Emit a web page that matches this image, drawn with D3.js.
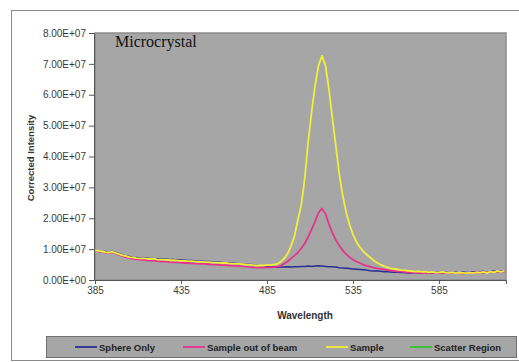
<!DOCTYPE html>
<html><head><meta charset="utf-8">
<script src="https://cdn.jsdelivr.net/npm/d3@7/dist/d3.min.js"></script>
<style>body{margin:0;background:#fff}svg{display:block}</style>
</head><body><svg id="c" width="519" height="362"></svg>
<script>
// wavelength (nm)
const wavelength = [
385,387,389,391,393,395,397,399,401,403,
405,407,409,411,413,415,417,419,421,423,
425,427,429,431,433,435,437,439,441,443,
445,447,449,451,453,455,457,459,461,463,
465,467,469,471,473,475,477,479,481,483,
485,487,489,491,493,495,497,499,501,503,
505,507,509,511,513,515,517,519,521,523,
525,527,529,531,533,535,537,539,541,543,
545,547,549,551,553,555,557,559,561,563,
565,567,569,571,573,575,577,579,581,583,
585,587,589,591,593,595,597,599,601,603,
605,607,609,611,613,615,617,619,621,623];
// corrected intensity, in millions
const sphereOnly = [
9.5,9.3,9.1,9.2,8.9,9.3,8.9,8.5,8.1,7.8,
7.6,7.4,7.3,7.2,7.1,7.1,7.0,7.0,6.9,6.8,
6.8,6.7,6.6,6.6,6.5,6.5,6.4,6.3,6.3,6.2,
6.1,6.1,6.0,6.0,5.9,5.8,5.8,5.7,5.6,5.6,
5.5,5.4,5.3,5.2,5.1,5.0,4.9,4.8,4.6,4.5,
4.4,4.3,4.2,4.1,4.2,4.2,4.3,4.2,4.3,4.3,
4.4,4.4,4.5,4.4,4.5,4.6,4.5,4.4,4.3,4.3,
4.2,4.0,3.9,3.8,3.7,3.6,3.5,3.4,3.3,3.2,
3.0,2.9,2.9,2.8,2.7,2.7,2.6,2.5,2.5,2.4,
2.4,2.3,2.3,2.4,2.2,2.3,2.5,2.2,2.3,2.4,
2.6,2.3,2.5,2.2,2.4,2.5,2.3,2.6,2.4,2.5,
2.7,2.4,2.6,2.8,2.5,2.7,2.9,2.6,2.8,2.7];
const sampleOutOfBeam = [
9.5,9.3,9.0,8.9,8.7,9.0,8.6,8.1,7.7,7.4,
7.1,6.9,6.7,6.6,6.5,6.4,6.3,6.3,6.1,6.0,
6.0,5.9,5.8,5.7,5.7,5.6,5.5,5.5,5.4,5.3,
5.3,5.2,5.2,5.1,5.0,5.0,4.9,4.8,4.8,4.7,
4.6,4.6,4.5,4.4,4.3,4.2,4.1,4.0,4.1,4.0,
4.1,4.1,4.2,4.3,4.6,5.3,6.0,7.0,7.9,8.9,
10.3,11.9,14.0,16.5,19.0,21.8,23.2,21.5,18.2,15.3,
13.0,11.2,9.6,8.4,7.4,6.6,6.0,5.5,5.0,4.6,
4.3,4.0,3.8,3.6,3.4,3.2,3.0,2.9,2.8,2.7,
2.6,2.5,2.4,2.5,2.3,2.4,2.2,2.3,2.4,2.2,
2.3,2.4,2.2,2.3,2.4,2.2,2.3,2.1,2.3,2.2,
2.4,2.3,2.5,2.4,2.6,2.5,2.7,2.6,2.8,2.7];
const sample = [
9.6,9.4,9.2,9.0,8.9,9.2,8.8,8.4,8.0,7.7,
7.4,7.3,7.1,7.0,7.0,6.9,6.8,6.9,6.7,6.6,
6.6,6.5,6.4,6.4,6.3,6.2,6.2,6.1,6.1,6.0,
5.9,5.9,5.8,5.8,5.7,5.6,5.6,5.5,5.5,5.4,
5.3,5.3,5.2,5.1,5.0,4.9,4.8,4.7,4.7,4.7,
4.8,4.8,5.0,5.2,5.9,7.0,8.5,11.0,14.2,19.5,
24.5,33.0,45.0,54.5,63.0,69.5,72.6,69.5,62.0,52.5,
43.5,34.5,27.5,22.0,18.0,14.8,12.4,10.6,9.3,8.2,
7.3,6.4,5.6,5.0,4.5,4.1,3.8,3.6,3.4,3.2,
3.1,3.0,2.9,2.7,2.8,2.6,2.7,2.5,2.6,2.4,
2.5,2.6,2.4,2.3,2.5,2.2,2.4,2.3,2.2,2.4,
2.3,2.5,2.4,2.6,2.3,2.7,2.5,2.9,2.6,2.9];
const scatterRegion = [];
const seriesNames = ["Sphere Only","Sample out of beam","Sample","Scatter Region"];
const seriesColors = ["#2c2c94","#e6348c","#f2ef3c","#2fc42f"];
const yTicks = [0,10,20,30,40,50,60,70,80];
const xTicks = [385,435,485,535,585];

const svg = d3.select("#c");
const L=95, T=33, R=506, B=280;
const x = d3.scaleLinear().domain([385,624]).range([L,R]);
const y = d3.scaleLinear().domain([0,80]).range([B,T]);

// outer frame
svg.append("rect").attr("x",11.5).attr("y",10.5).attr("width",530).attr("height",350)
  .attr("fill","#fff").attr("stroke","#8a8a8a");

// plot area
svg.append("rect").attr("x",L).attr("y",T).attr("width",R-L).attr("height",B-T)
  .attr("fill","#a6a6a6").attr("stroke","#8c8c8c").attr("stroke-width",1.5);

const fmt = v => {
  if (v===0) return "0.00E+00";
  const e = Math.floor(Math.log10(v*1e6));
  const m = v*1e6/Math.pow(10,e);
  return m.toFixed(2)+"E+"+String(e).padStart(2,"0");
};

const yAxis = d3.axisLeft(y).tickValues(yTicks).tickFormat(fmt).tickSize(5).tickPadding(3);
const gy = svg.append("g").attr("transform",`translate(${L-1},0)`).call(yAxis);
gy.selectAll("text").attr("font-family","Arial, 'Liberation Sans', sans-serif").attr("font-size",10).attr("fill","#3a3a3a");
gy.selectAll("line,path").attr("stroke","#555");

const xAxis = d3.axisBottom(x).tickValues(xTicks).tickFormat(d3.format("d")).tickSize(4).tickPadding(3);
const gx = svg.append("g").attr("transform",`translate(0,${B})`).call(xAxis);
gx.selectAll("text").attr("font-family","Arial, 'Liberation Sans', sans-serif").attr("font-size",10).attr("fill","#3a3a3a");
gx.selectAll("line,path").attr("stroke","#555");

// lines
const data = [sphereOnly, sampleOutOfBeam, sample, scatterRegion];
const line = d3.line().x((d,i)=>x(wavelength[i])).y(d=>y(d));
data.forEach((s,k)=>{
  if (!s.length) return;
  svg.append("path").datum(s).attr("d",line).attr("fill","none")
    .attr("stroke",seriesColors[k]).attr("stroke-width",k===0?1.5:1.8).attr("stroke-linejoin","round");
});

// title inside plot
svg.append("text").attr("x",115).attr("y",47).text("Microcrystal")
  .attr("font-family","'Liberation Serif','Times New Roman',serif").attr("font-size",16).attr("fill","#111");

// axis titles
svg.append("text").attr("transform","translate(34,158) rotate(-90)").attr("text-anchor","middle")
  .text("Corrected Intensity").attr("font-family","Arial, 'Liberation Sans', sans-serif")
  .attr("font-size",9.5).attr("font-weight","bold").attr("fill","#333");
svg.append("text").attr("x",305).attr("y",319).attr("text-anchor","middle")
  .text("Wavelength").attr("font-family","Arial, 'Liberation Sans', sans-serif")
  .attr("font-size",10).attr("font-weight","bold").attr("fill","#333");

// legend
svg.append("rect").attr("x",46.5).attr("y",336.5).attr("width",470).attr("height",21)
  .attr("fill","#a6a6a6").attr("stroke","#6f6f6f");
const legX = [75,183,326,410];
const lg = svg.append("g");
seriesNames.forEach((n,k)=>{
  lg.append("line").attr("x1",legX[k]).attr("x2",legX[k]+22).attr("y1",347).attr("y2",347)
    .attr("stroke",seriesColors[k]).attr("stroke-width",1.8);
  lg.append("text").attr("x",legX[k]+24).attr("y",350.5).text(n)
    .attr("font-family","Arial, 'Liberation Sans', sans-serif").attr("font-size",9.5)
    .attr("font-weight","bold").attr("fill","#222");
});
</script></body></html>
